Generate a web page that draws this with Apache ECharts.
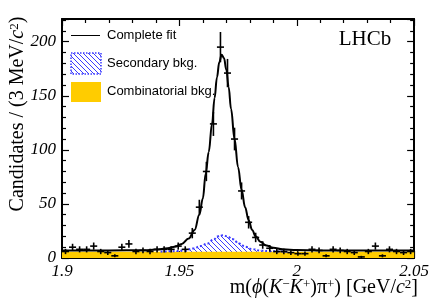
<!DOCTYPE html>
<html><head><meta charset="utf-8">
<script src="https://cdn.jsdelivr.net/npm/echarts@6/dist/echarts.min.js"></script>
<style>html,body{margin:0;padding:0;background:#fff}#c{width:432px;height:305px}</style>
</head><body><div id="c"></div>
<script>
// ---- data ----
const binCenters = [1.9015,1.9045,1.9075,1.9105,1.9135,1.9165,1.9195,1.9225,1.9255,1.9285,
  1.9315,1.9345,1.9375,1.9405,1.9435,1.9465,1.9495,1.9525,1.9555,1.9585,
  1.9615,1.9645,1.9675,1.9705,1.9735,1.9765,1.9795,1.9825,1.9855,1.9885,
  1.9915,1.9945,1.9975,2.0005,2.0035,2.0065,2.0095,2.0125,2.0155,2.0185,
  2.0215,2.0245,2.0275,2.0305,2.0335,2.0365,2.0395,2.0425,2.0455,2.0485];
const counts = [6,10,8,8,11,6,5,2,10,13,
  6,7,6,8,8,8,11,8,23,47,
  80,124,195,171,110,62,33,19,12,9,
  6,6,5,4,4,8,7,2,8,7,
  6,5,1,6,11,2,8,6,5,6];
const binHalfWidth = 0.0015;

const fitMass  = [1.900,1.920,1.935,1.940,1.945,1.948,1.951,1.954,1.9565,1.9585,1.960,1.9612,1.9625,1.9639,1.965,1.966,1.967,1.968,1.969,1.970,1.971,1.972,1.9735,1.975,1.9765,1.978,1.9795,1.981,1.9825,1.9845,1.987,1.990,1.994,2.000,2.010,2.050];
const fitTotal = [7,7,7.2,7.8,9,10.5,13,18,26,40,55,78,98,124,148,167,181,188,185,174,158,138,110,84,63,47,35,26,20,15,11.5,9.5,8,7.3,7,7];

const secMass  = [1.942,1.948,1.952,1.956,1.959,1.962,1.9645,1.9665,1.9685,1.9705,1.9725,1.9755,1.978,1.981,1.9845,1.989,1.996];
const secTotal = [5.8,6.3,7,8.8,11,13.5,17,20,21,20,17.5,13.5,10.5,8.3,6.8,6.2,5.8];

const combMass  = [1.9, 2.05];
const combLevel = [5.8, 5.8];

const xTickLabels = {'1.9':'1.9','1.95':'1.95','2':'2','2.05':'2.05'};
const yTickLabels = ['0','50','100','150','200'];

// ---- styles ----
const SERIF = '"Liberation Serif","Times New Roman",serif';
const SANS = '"Liberation Sans",Arial,Helvetica,sans-serif';
const YELLOW = '#FFCC00';
const BLUE = '#3b3bff';

function hatch(){
  const s = 5, c = document.createElement('canvas');
  c.width = s; c.height = s;
  const g = c.getContext('2d');
  g.strokeStyle = BLUE; g.lineWidth = 1;
  g.beginPath();
  for (const k of [-s, 0, s]) { g.moveTo(k - 1, -1); g.lineTo(k + s + 1, s + 1); }
  g.stroke();
  return c;
}
const hatchImg = hatch();

const chart = echarts.init(document.getElementById('c'), null, {renderer:'canvas'});

const tickCommon = {inside:true, length:7, lineStyle:{color:'#000', width:1.2}};
const minorCommon = {show:true, length:4, lineStyle:{color:'#000', width:1.2}};
const lineCommon = {show:true, onZero:false, lineStyle:{color:'#000', width:2}};

function xAxisDef(pos, labels){
  return {type:'value', position:pos, min:1.9, max:2.05, interval:0.05,
    axisLine:lineCommon, axisTick:tickCommon,
    minorTick:Object.assign({splitNumber:5}, minorCommon),
    splitLine:{show:false}, minorSplitLine:{show:false},
    axisLabel:{show:labels, margin:5, color:'#000', fontFamily:SERIF, fontStyle:'italic', fontSize:17,
      formatter:v => xTickLabels[String(+v.toFixed(3))] || ''}};
}
function yAxisDef(pos, labels){
  return {type:'value', position:pos, min:0, max:221, interval:50,
    axisLine:lineCommon, axisTick:tickCommon,
    minorTick:Object.assign({splitNumber:5}, minorCommon),
    splitLine:{show:false}, minorSplitLine:{show:false},
    axisLabel:{show:labels, margin:6, color:'#000', fontFamily:SERIF, fontStyle:'italic', fontSize:17,
      showMaxLabel:false,
      formatter:v => { const i = Math.round(v/50); return (Math.abs(v - i*50) < 1e-6 && yTickLabels[i]) ? yTickLabels[i] : ''; }}};
}

const option = {
  animation:false,
  backgroundColor:'#fff',
  grid:{left:62, right:13, top:19, bottom:47, containLabel:false},
  xAxis:[xAxisDef('bottom', true), xAxisDef('top', false)],
  yAxis:[yAxisDef('left', true), yAxisDef('right', false)],
  series:[
    {type:'line', name:'sec-area', z:1, symbol:'none', silent:true,
      data:secMass.map((m,i)=>[m, secTotal[i]]),
      smooth:0.4, smoothMonotone:'x',
      lineStyle:{width:0, opacity:0},
      areaStyle:{color:{image:hatchImg, repeat:'repeat'}, opacity:1}},
    {type:'line', name:'comb', z:2, symbol:'none', silent:true,
      data:combMass.map((m,i)=>[m, combLevel[i]]),
      lineStyle:{width:0, opacity:0},
      areaStyle:{color:YELLOW, opacity:1}},
    {type:'line', name:'sec-line', z:3, symbol:'none', silent:true,
      data:secMass.map((m,i)=>[m, secTotal[i]]),
      smooth:0.4, smoothMonotone:'x',
      lineStyle:{width:2, color:BLUE, type:[2,2]}},
    {type:'line', name:'fit', z:4, symbol:'none', silent:true,
      data:fitMass.map((m,i)=>[m, fitTotal[i]]),
      smooth:0.4, smoothMonotone:'x',
      lineStyle:{width:2, color:'#000'}},
    {type:'custom', name:'data', z:5, silent:true,
      data:binCenters.map((m,i)=>[m, counts[i]]),
      renderItem:function(params, api){
        const x = api.value(0), y = api.value(1), e = Math.sqrt(y);
        const pL = api.coord([x - binHalfWidth, y]), pR = api.coord([x + binHalfWidth, y]);
        const pT = api.coord([x, y + e]), pB = api.coord([x, Math.max(y - e, 0)]);
        const st = {stroke:'#000', lineWidth:1.6};
        return {type:'group', children:[
          {type:'line', shape:{x1:pL[0], y1:pL[1], x2:pR[0], y2:pR[1]}, style:st},
          {type:'line', shape:{x1:pT[0], y1:pT[1], x2:pB[0], y2:pB[1]}, style:st}
        ]};
      }}
  ],
  graphic:[
    // y-axis title
    {type:'text', x:18, y:114, rotation:Math.PI/2, z:10,
      style:{text:'Candidates / (3 MeV/{i|c}{s|2})', fontFamily:SERIF, fontSize:20, fill:'#000',
        align:'center', verticalAlign:'middle',
        rich:{i:{fontFamily:SERIF, fontStyle:'italic', fontSize:20}, s:{fontFamily:SERIF, fontSize:13, verticalAlign:'top'}}}},
    // x-axis title
    {type:'text', x:418, y:288, z:10,
      style:{text:'m({i|ϕ}({i|K}{s|−}{i|K}{s|+})π{s|+}) [GeV/{i|c}{s|2}]', fontFamily:SERIF, fontSize:20, fill:'#000',
        align:'right', verticalAlign:'middle',
        rich:{i:{fontFamily:SERIF, fontStyle:'italic', fontSize:20}, s:{fontFamily:SERIF, fontSize:13, verticalAlign:'top'}}}},
    // LHCb
    {type:'text', x:365, y:39, z:10,
      style:{text:'LHCb', fontFamily:SERIF, fontSize:21, fill:'#000', align:'center', verticalAlign:'middle'}},
    // legend
    {type:'line', z:10, shape:{x1:71, y1:35.5, x2:100, y2:35.5}, style:{stroke:'#000', lineWidth:1}},
    {type:'text', x:107, y:35, z:10, style:{text:'Complete fit', fontFamily:SANS, fontSize:13, fill:'#000', verticalAlign:'middle'}},
    {type:'rect', z:10, shape:{x:71, y:53, width:30, height:21},
      style:{fill:{image:hatchImg, repeat:'repeat'}, stroke:BLUE, lineWidth:1.5, lineDash:[1.5,1.5]}},
    {type:'text', x:107, y:63, z:10, style:{text:'Secondary bkg.', fontFamily:SANS, fontSize:13, fill:'#000', verticalAlign:'middle'}},
    {type:'rect', z:10, shape:{x:71, y:82, width:30, height:20}, style:{fill:YELLOW}},
    {type:'text', x:107, y:91, z:10, style:{text:'Combinatorial bkg.', fontFamily:SANS, fontSize:13, fill:'#000', verticalAlign:'middle'}}
  ]
};
chart.setOption(option);
</script>
</body></html>
